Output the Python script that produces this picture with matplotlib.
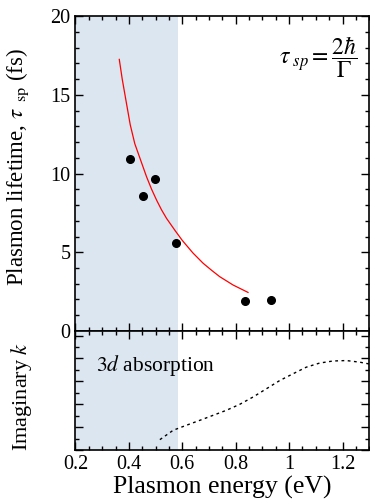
import numpy as np
import matplotlib.pyplot as plt
from matplotlib.ticker import MultipleLocator

plt.rcParams['font.family'] = ['Liberation Serif', 'DejaVu Serif']
plt.rcParams['mathtext.fontset'] = 'stix'

# measured lifetimes (eV, fs)
e_meas = [0.404, 0.451, 0.498, 0.577, 0.836, 0.931]
tau_meas = [10.95, 8.55, 9.65, 5.6, 1.9, 1.95]

# calculated lifetime curve
e_calc = [0.364, 0.375, 0.391, 0.405, 0.422, 0.445, 0.466, 0.485, 0.504, 0.522,
          0.541, 0.572, 0.600, 0.640, 0.678, 0.710, 0.740, 0.790, 0.846]
tau_calc = [17.25, 16.0, 14.45, 13.1, 11.9, 10.8, 9.8, 9.0, 8.3, 7.7,
            7.15, 6.4, 5.75, 4.95, 4.3, 3.85, 3.45, 2.92, 2.45]

# imaginary part of k (arb. units)
e_k = [0.516, 0.566, 0.616, 0.665, 0.715, 0.765, 0.815, 0.865, 0.915, 0.965,
       1.014, 1.064, 1.114, 1.164, 1.214, 1.264, 1.30]
k_im = [0.46, 0.87, 1.09, 1.30, 1.52, 1.74, 2.0, 2.32, 2.68, 3.04,
        3.33, 3.62, 3.80, 3.89, 3.91, 3.84, 3.76]

shade_lo, shade_hi = 0.2, 0.585

fig = plt.figure(figsize=(3.7, 5.03), dpi=100)
ax1 = fig.add_axes([0.204, 0.342, 0.794, 0.626])
ax2 = fig.add_axes([0.204, 0.105, 0.794, 0.237], sharex=ax1)

for ax in (ax1, ax2):
    ax.axvspan(shade_lo, shade_hi, color='#dce6f1', lw=0, zorder=0)
    ax.tick_params(which='both', direction='in', top=True, right=True,
                   labelsize=14.5, width=1)
    ax.tick_params(which='major', length=6)
    ax.tick_params(which='minor', length=3)
    ax.xaxis.set_major_locator(MultipleLocator(0.2))
    ax.xaxis.set_minor_locator(MultipleLocator(0.05))
    for s in ax.spines.values():
        s.set_linewidth(1.2)

ax1.plot(e_calc, tau_calc, color='red', lw=0.9)
ax1.plot(e_meas, tau_meas, 'o', color='black', ms=5.5)
ax1.set_xlim(0.2, 1.3)
ax1.set_ylim(0, 20)
ax1.yaxis.set_major_locator(MultipleLocator(5))
ax1.yaxis.set_minor_locator(MultipleLocator(1))
ax1.tick_params(labelbottom=False)
ax1.set_ylabel(r'Plasmon lifetime, $\tau_{\ \ \mathrm{sp}}$ (fs)', fontsize=16.5)
ax1.yaxis.set_label_coords(-0.15, 0.52)
ax1.text(0.96, 0.94, r'$\tau_{\ sp} = \dfrac{2\hbar}{\Gamma}$', transform=ax1.transAxes,
         ha='right', va='top', fontsize=17)

ax2.plot(e_k, k_im, color='black', lw=1, ls=(0, (2, 2.5)))
ax2.set_ylim(0, 5.2)
ax2.yaxis.set_major_locator(MultipleLocator(1))
ax2.yaxis.set_minor_locator(MultipleLocator(0.5))
ax2.tick_params(labelleft=False)
ax2.set_ylabel(r'Imaginary $k$', fontsize=16)
ax2.yaxis.set_label_coords(-0.14, 0.45)
ax2.set_xlabel('Plasmon energy (eV)', fontsize=18.5, labelpad=1)
ax2.set_xticks([0.2, 0.4, 0.6, 0.8, 1.0, 1.2])
ax2.set_xticklabels(['0.2', '0.4', '0.6', '0.8', '1', '1.2'])
ax2.text(0.277, 3.7, r'$3d$ absorption', fontsize=15.5, va='center')

fig.savefig('out.png', dpi=100)
